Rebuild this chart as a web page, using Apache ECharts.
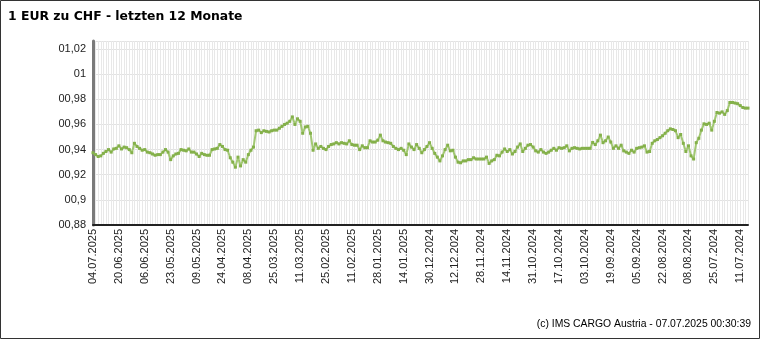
<!DOCTYPE html>
<html>
<head>
<meta charset="utf-8">
<script src="https://cdn.jsdelivr.net/npm/echarts@6/dist/echarts.min.js"></script>
<style>
html,body{margin:0;padding:0;background:#fff;}
#chart{width:760px;height:339px;}
</style>
</head>
<body>
<div id="chart"></div>
<script>
// Date range (newest first), business days without TARGET holidays
var firstDate = '2025-07-04';
var lastDate = '2024-07-08';
var holidays = ['2024-12-25','2024-12-26','2025-01-01','2025-04-18','2025-04-21','2025-05-01'];

// EUR->CHF rate, newest (04.07.2025) first
var rates = [
0.9375,0.936,0.9345,0.935,0.937,0.9385,0.940,0.938,0.9405,0.941,
0.943,0.9405,0.942,0.9415,0.940,0.9375,0.945,0.9425,0.941,0.9395,
0.940,0.938,0.9375,0.9365,0.9355,0.936,0.936,0.938,0.940,0.938,
0.932,0.935,0.9365,0.937,0.940,0.9395,0.939,0.9405,0.938,0.938,
0.9365,0.9345,0.937,0.936,0.9355,0.9355,0.940,0.9405,0.941,0.944,
0.9425,0.940,0.9395,0.9335,0.930,0.926,0.934,0.927,0.932,0.930,
0.936,0.9395,0.942,0.955,0.9555,0.9535,0.955,0.9545,0.954,0.955,
0.9555,0.9555,0.957,0.9585,0.960,0.961,0.9625,0.966,0.960,0.9645,
0.9625,0.953,0.958,0.9585,0.953,0.9395,0.9445,0.941,0.9425,0.941,
0.940,0.9425,0.944,0.9445,0.9455,0.9445,0.9455,0.945,0.9445,0.947,
0.944,0.9435,0.9435,0.940,0.943,0.9415,0.9415,0.947,0.946,0.946,
0.9475,0.9515,0.947,0.946,0.9455,0.945,0.9425,0.941,0.940,0.941,
0.9395,0.936,0.9445,0.942,0.940,0.944,0.941,0.9375,0.940,0.9425,
0.9455,0.941,0.937,0.934,0.931,0.935,0.940,0.9435,0.939,0.9395,
0.934,0.930,0.9295,0.931,0.931,0.932,0.932,0.9335,0.9325,0.9325,
0.9325,0.9325,0.934,0.929,0.931,0.932,0.9355,0.935,0.938,0.9405,
0.9385,0.940,0.9365,0.9385,0.942,0.9445,0.9385,0.941,0.9435,0.944,
0.942,0.939,0.938,0.940,0.938,0.937,0.938,0.9395,0.941,0.9395,
0.9415,0.941,0.9415,0.943,0.939,0.941,0.9415,0.941,0.9405,0.941,
0.941,0.941,0.941,0.9457,0.944,0.947,0.9515,0.9455,0.947,0.950,
0.946,0.941,0.943,0.941,0.9435,0.939,0.938,0.937,0.9395,0.938,
0.941,0.9415,0.942,0.943,0.938,0.9385,0.945,0.947,0.948,0.9495,
0.951,0.953,0.955,0.9565,0.956,0.955,0.9495,0.952,0.945,0.9385,
0.943,0.935,0.9325,0.9455,0.949,0.9555,0.9605,0.960,0.961,0.9555,
0.9625,0.9695,0.969,0.970,0.968,0.971,0.9775,0.9775,0.977,0.9765,
0.975,0.9735,0.973,0.973
];

var yMin = 0.88, yMax = 1.0264, yStep = 0.02;
var titleText = '1 EUR zu CHF - letzten 12 Monate';
var footerText = '(c) IMS CARGO Austria - 07.07.2025 00:30:39';

function pad(n){return (n<10?'0':'')+n;}
function iso(d){return d.getUTCFullYear()+'-'+pad(d.getUTCMonth()+1)+'-'+pad(d.getUTCDate());}
function buildDates(){
  var out=[];
  var d=new Date(firstDate+'T00:00:00Z');
  var end=new Date(lastDate+'T00:00:00Z');
  while(d>=end){
    var wd=d.getUTCDay();
    var s=iso(d);
    if(wd!==0&&wd!==6&&holidays.indexOf(s)<0){
      out.push(pad(d.getUTCDate())+'.'+pad(d.getUTCMonth()+1)+'.'+d.getUTCFullYear());
    }
    d=new Date(d.getTime()-86400000);
  }
  return out;
}
var dates = buildDates();

function fmtY(v){
  var k=Math.round(v/yStep);
  if(Math.abs(v-k*yStep)>1e-6) return '';
  var s=(Math.round(v*100)/100).toString().replace('.',',');
  return '0'+s;
}

var chart = echarts.init(document.getElementById('chart'), null, {renderer:'canvas'});
chart.setOption({
  animation:false,
  backgroundColor:'#fff',
  title:{text:titleText,left:8,top:11,padding:0,textStyle:{fontFamily:'DejaVu Sans',fontSize:12.4,fontWeight:'bold',color:'#000'}},
  grid:{left:93,right:12,top:41,bottom:114,containLabel:false},
  xAxis:{
    type:'category',data:dates,boundaryGap:false,
    axisLine:{lineStyle:{color:'#222',width:2}},
    axisTick:{show:false},
    axisLabel:{interval:9,rotate:90,fontFamily:'Liberation Sans',fontSize:11,color:'#222',margin:4},
    splitLine:{show:true,interval:0,lineStyle:{color:'#e8e8e8',width:1}}
  },
  yAxis:{
    type:'value',min:yMin,max:yMax,interval:yStep,
    axisLine:{show:true,lineStyle:{color:'#7a7a7a',width:3}},
    axisTick:{show:false},
    axisLabel:{formatter:fmtY,fontFamily:'Liberation Sans',fontSize:11,color:'#222',margin:7,showMaxLabel:false},
    splitLine:{show:true,lineStyle:{color:'#e2e2e2',width:1}}
  },
  series:[{
    type:'line',data:rates,
    lineStyle:{color:'#a2c873',width:2},
    itemStyle:{color:'#84b04a'},
    symbol:'rect',symbolSize:3,showSymbol:true,showAllSymbol:true,
    z:3
  }],
  graphic:[
    {type:'rect',shape:{x:0.5,y:0.5,width:759,height:338},style:{fill:'none',stroke:'#333',lineWidth:1},silent:true},
    {type:'text',right:9,top:319,style:{text:footerText,fontFamily:'Liberation Sans',fontSize:10.4,fill:'#000'}}
  ]
});
</script>
</body>
</html>
